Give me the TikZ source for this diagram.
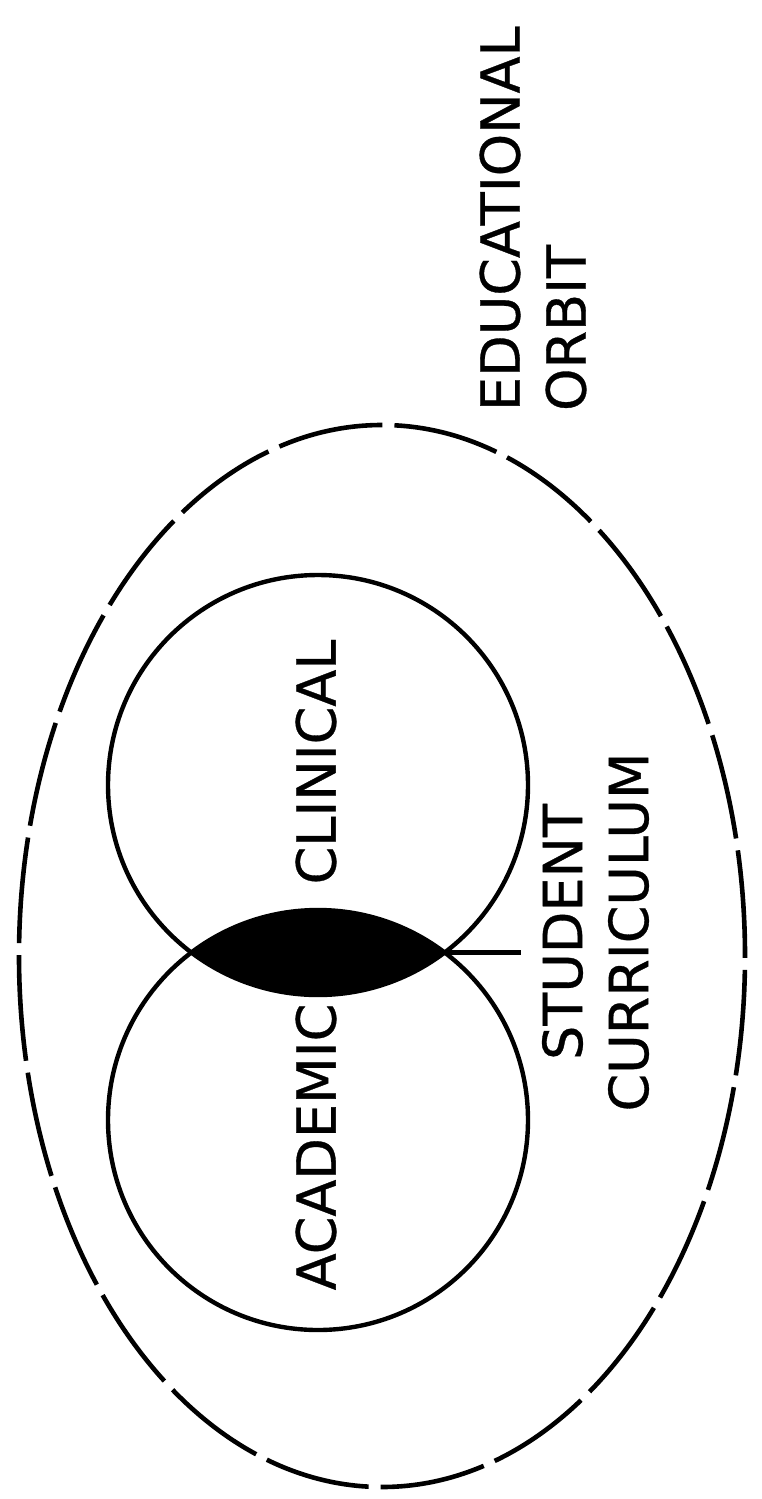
\documentclass[tikz,border=0pt]{standalone}
\usepackage{fontspec}
\setmainfont[FakeBold=0.6]{DejaVu Sans}
\usetikzlibrary{positioning, shapes.geometric}

\begin{document}
\begin{tikzpicture}[x=0.5pt, y=-0.5pt,
    ring/.style={draw, circle, line width=2.2pt, minimum size=210pt, inner sep=0pt},
    orbitline/.style={draw, ellipse, line width=2.3pt, dash pattern=on 53pt off 6pt,
      minimum width=363pt, minimum height=531pt, inner sep=0pt},
    lbl/.style={rotate=90, font=\fontsize{27}{33}\selectfont}]
  \useasboundingbox (0,0) rectangle (761,1499);

  % Orbit
  \node[orbitline] (orbit) at (382,956) {};
  \node[lbl, anchor=west, align=left] (orbitlbl) at (533,418) {EDUCATIONAL\\ORBIT};

  % Clinical and academic circles
  \node[ring] (clin) at (318,785) {};
  \node[ring] (acad) at (318,1120) {};

  % Overlap
  \begin{scope}
    \clip (clin.center) circle (105pt);
    \fill (acad.center) circle (105pt);
  \end{scope}

  \node[lbl] (clinlbl) at (316,762) {CLINICAL};
  \node[lbl] (acadlbl) at (316,1147) {ACADEMIC};

  % Student curriculum
  \coordinate (lensR) at (444.7,952.5);
  \node[lbl, align=center, anchor=north] (curr) at (535,932) {STUDENT\\CURRICULUM};
  \draw[line width=2.2pt, shorten >=7pt] (lensR) -- (lensR -| curr.north);
\end{tikzpicture}
\end{document}
